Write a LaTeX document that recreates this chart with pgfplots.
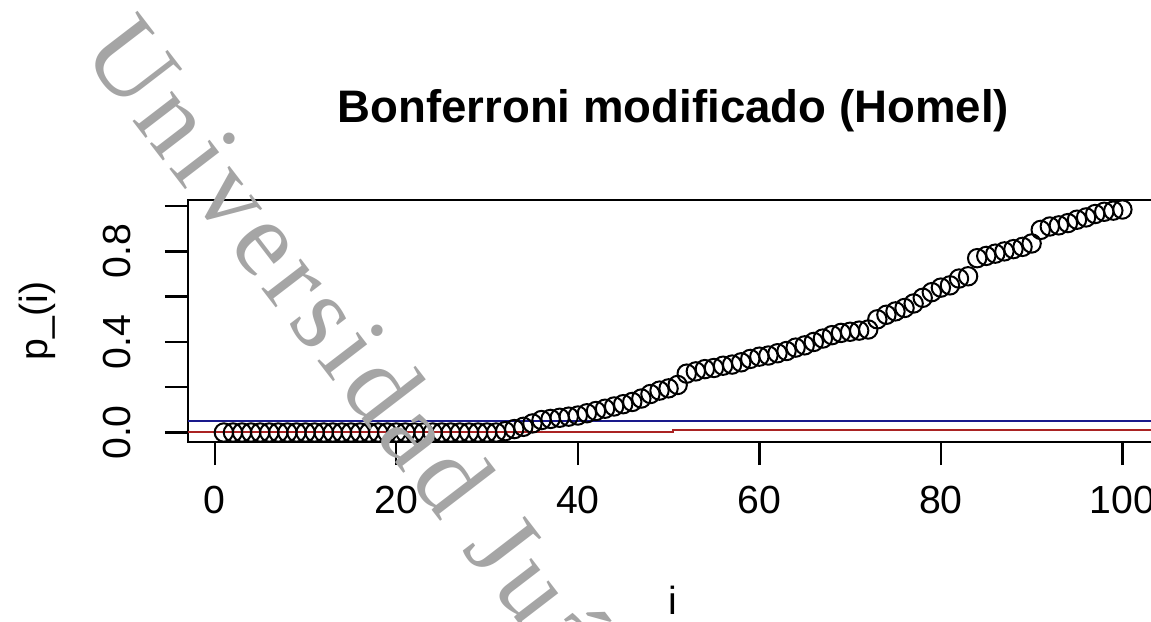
\documentclass[border=0pt]{standalone}
\usepackage{fontspec}
\setmainfont{Liberation Sans}
\newfontfamily\wmfont[LetterSpace=6]{Liberation Serif}
\usepackage{pgfplots}
\pgfplotsset{compat=1.18}
\definecolor{hblue}{RGB}{25,25,140}
\definecolor{hred}{RGB}{170,35,35}
\definecolor{wmgray}{RGB}{165,165,165}
\pgfplotstableread{
i p
1 0
2 0
3 0
4 0
5 0
6 0
7 0
8 0
9 0
10 0
11 0
12 0
13 0
14 0
15 0
16 0
17 0
18 0
19 0
20 0
21 0
22 0
23 0
24 0
25 0
26 0
27 0
28 0
29 0
30 0
31 0
32 0.006
33 0.015
34 0.025
35 0.040
36 0.055
37 0.060
38 0.065
39 0.070
40 0.075
41 0.085
42 0.095
43 0.105
44 0.115
45 0.125
46 0.135
47 0.150
48 0.170
49 0.185
50 0.195
51 0.210
52 0.260
53 0.270
54 0.280
55 0.285
56 0.295
57 0.300
58 0.310
59 0.325
60 0.335
61 0.340
62 0.350
63 0.360
64 0.375
65 0.385
66 0.400
67 0.415
68 0.430
69 0.440
70 0.445
71 0.450
72 0.455
73 0.500
74 0.520
75 0.535
76 0.550
77 0.570
78 0.595
79 0.620
80 0.640
81 0.650
82 0.680
83 0.690
84 0.770
85 0.780
86 0.790
87 0.800
88 0.810
89 0.820
90 0.835
91 0.895
92 0.910
93 0.915
94 0.925
95 0.940
96 0.950
97 0.965
98 0.975
99 0.980
100 0.985
}\pvals
\begin{document}
\begin{tikzpicture}
\begin{axis}[
  at={(46.975pt,44.75pt)}, anchor=south west,
  width=242.6pt, height=60.5pt, scale only axis,
  xmin=-2.96, xmax=103.96, ymin=-0.042, ymax=1.027,
  axis line style={line width=0.6pt},
  every tick/.style={black, line width=0.6pt},
  tick align=outside, tick pos=left,
  major tick length=5.75pt,
  xtick={0,20,40,60,80,100},
  ytick={0,0.2,0.4,0.6,0.8,1.0},
  yticklabels={0.0,,0.4,,0.8,},
  /pgf/number format/assume math mode=true,
  ticklabel style={font=\fontsize{9.8}{11}\selectfont},
  xticklabel style={anchor=base, yshift=-12pt},
  yticklabel style={xshift=-8.5pt, rotate=90, anchor=base},
  xlabel={i},
  ylabel={p\_(i)},
  label style={font=\fontsize{9.8}{11}\selectfont},
  xlabel style={at={(axis description cs:0.5,-0.7107)}, anchor=base},
  ylabel style={at={(axis description cs:-0.145,0.5)}, anchor=base, rotate=0},
  clip=false,
]
\addplot[only marks, mark=o, mark size=2.3pt, mark options={line width=0.5pt, black}] table[x=i, y=p] {\pvals};
\addplot[hblue, line width=0.55pt] coordinates {(-2.96,0.05) (103.96,0.05)};
\addplot[hred, line width=0.55pt] coordinates {(-2.96,0.0005) (50.5,0.0005) (50.5,0.01) (103.96,0.01)};
\end{axis}
\node[anchor=base, font=\fontsize{11.4}{13}\selectfont\bfseries] at (168.3pt,124.6pt) {Bonferroni modificado (Homel)};
\node[anchor=base west, rotate=-52.5, text=wmgray, inner sep=0pt, font=\fontsize{27}{30}\selectfont\wmfont] at (20pt,142.25pt) {Universidad Juárez Autónoma de Tabasco};
\pgfresetboundingbox
\path (0,0) rectangle (287.75pt,155.25pt);
\end{tikzpicture}
\end{document}
